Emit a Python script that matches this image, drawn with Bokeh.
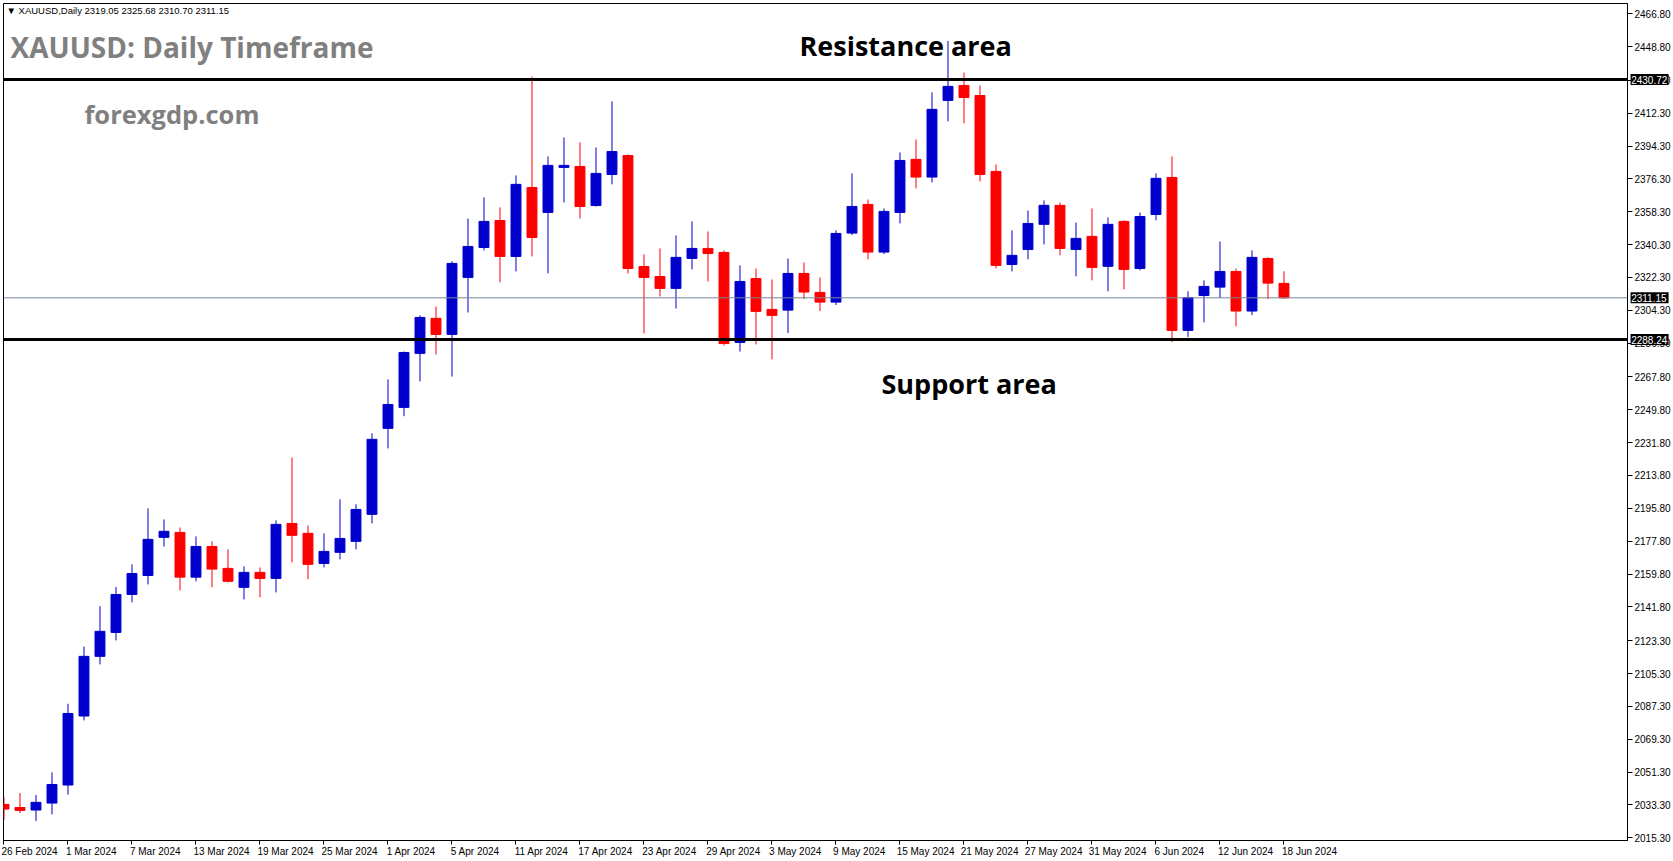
from bokeh.plotting import figure
from bokeh.models import ColumnDataSource, Range1d, LinearAxis, FixedTicker, Span, Label
from bokeh.embed import file_html
from bokeh.resources import INLINE
from bokeh.core.properties import value

# ---------------- data ----------------
date_labels = ["26 Feb 2024", "1 Mar 2024", "7 Mar 2024", "13 Mar 2024", "19 Mar 2024",
               "25 Mar 2024", "1 Apr 2024", "5 Apr 2024", "11 Apr 2024", "17 Apr 2024",
               "23 Apr 2024", "29 Apr 2024", "3 May 2024", "9 May 2024", "15 May 2024",
               "21 May 2024", "27 May 2024", "31 May 2024", "6 Jun 2024", "12 Jun 2024",
               "18 Jun 2024"]
bars_per_label = 4

opens = [2033.6, 2031.9, 2030.5, 2034.3, 2044.2, 2082.0, 2114.7, 2127.8, 2148.6, 2159.0,
         2179.9, 2182.6, 2158.1, 2174.9, 2162.9, 2152.5, 2160.7, 2157.4, 2187.5, 2182.1,
         2165.6, 2171.7, 2177.7, 2192.5, 2239.6, 2251.1, 2280.7, 2299.9, 2291.1, 2322.3,
         2338.7, 2353.5, 2333.8, 2371.6, 2357.9, 2382.6, 2383.1, 2361.7, 2378.7, 2389.1,
         2328.3, 2322.8, 2316.3, 2332.7, 2338.2, 2336.0, 2286.7, 2321.7, 2304.8, 2304.4,
         2324.5, 2314.1, 2308.8, 2346.6, 2362.3, 2336.2, 2357.9, 2387.0, 2377.3, 2419.3,
         2427.5, 2422.0, 2380.4, 2329.4, 2337.6, 2351.4, 2361.8, 2337.6, 2344.8, 2328.4,
         2353.0, 2327.2, 2356.8, 2377.1, 2293.3, 2312.4, 2317.0, 2325.6, 2303.9, 2332.7,
         2319.05]
highs = [2037.6, 2039.8, 2038.7, 2051.1, 2088.7, 2120.1, 2142.2, 2152.7, 2165.1, 2195.8,
         2189.7, 2185.3, 2180.4, 2177.7, 2173.3, 2164.0, 2163.4, 2189.2, 2223.7, 2186.4,
         2182.1, 2200.7, 2198.0, 2236.9, 2266.4, 2281.7, 2301.5, 2306.4, 2331.1, 2354.6,
         2366.1, 2360.7, 2378.2, 2432.4, 2388.6, 2399.0, 2396.3, 2393.5, 2418.7, 2389.7,
         2334.9, 2338.2, 2345.3, 2353.0, 2347.5, 2337.1, 2328.9, 2327.2, 2321.2, 2332.7,
         2330.5, 2322.3, 2348.1, 2379.3, 2365.0, 2360.1, 2390.8, 2397.9, 2423.7, 2451.9,
         2434.6, 2427.5, 2384.2, 2348.1, 2359.0, 2364.5, 2363.4, 2352.4, 2360.1, 2355.2,
         2353.6, 2357.9, 2379.3, 2388.6, 2314.7, 2320.7, 2342.0, 2327.2, 2337.1, 2333.3,
         2325.68]
lows = [2025.2, 2028.8, 2024.4, 2028.1, 2039.0, 2079.6, 2110.3, 2123.4, 2144.3, 2154.1,
        2174.9, 2150.8, 2155.8, 2152.5, 2155.2, 2145.9, 2147.0, 2149.7, 2166.2, 2156.9,
        2163.4, 2167.8, 2173.3, 2187.5, 2228.6, 2246.3, 2265.3, 2280.1, 2268.0, 2303.1,
        2337.1, 2319.6, 2325.6, 2333.8, 2324.5, 2363.4, 2354.6, 2361.2, 2373.3, 2324.5,
        2291.6, 2311.9, 2305.3, 2326.7, 2320.1, 2285.0, 2281.7, 2285.6, 2277.4, 2291.8,
        2310.4, 2303.9, 2307.2, 2345.5, 2332.2, 2335.1, 2351.9, 2371.1, 2374.4, 2407.8,
        2406.7, 2374.9, 2327.2, 2325.6, 2332.2, 2340.4, 2334.4, 2322.9, 2320.7, 2314.7,
        2315.8, 2326.2, 2353.6, 2286.9, 2289.6, 2297.7, 2311.0, 2295.5, 2301.7, 2310.4,
        2310.70]
closes = [2031.0, 2030.3, 2034.7, 2044.5, 2083.4, 2114.7, 2128.4, 2148.6, 2160.1, 2178.8,
          2183.2, 2158.1, 2174.9, 2162.5, 2155.8, 2160.7, 2157.4, 2187.0, 2181.0, 2165.1,
          2172.2, 2179.3, 2195.2, 2233.6, 2252.7, 2281.2, 2300.4, 2291.1, 2330.0, 2339.3,
          2353.0, 2333.8, 2373.3, 2344.2, 2383.7, 2383.7, 2361.2, 2379.3, 2391.3, 2327.2,
          2322.3, 2316.3, 2333.3, 2338.2, 2335.4, 2286.1, 2320.1, 2303.7, 2301.5, 2324.5,
          2314.3, 2308.8, 2346.4, 2361.2, 2336.2, 2358.5, 2386.4, 2377.3, 2414.4, 2427.0,
          2420.9, 2378.7, 2328.9, 2334.4, 2351.9, 2361.8, 2338.2, 2343.7, 2327.8, 2351.4,
          2326.7, 2355.7, 2376.6, 2293.3, 2311.3, 2317.4, 2325.6, 2303.9, 2333.3, 2319.2,
          2311.15]

ytick_values = [2466.8, 2448.8, 2430.3, 2412.3, 2394.3, 2376.3, 2358.3, 2340.3, 2322.3,
                2304.3, 2286.3, 2267.8, 2249.8, 2231.8, 2213.8, 2195.8, 2177.8, 2159.8,
                2141.8, 2123.3, 2105.3, 2087.3, 2069.3, 2051.3, 2033.3, 2015.3]
ytick_labels = ["%.2f" % v for v in ytick_values]

resistance = 2430.72
support = 2288.24
last_price = 2311.15
tag_prices = [resistance, last_price, support]
header = "\u25BC XAUUSD,Daily  2319.05 2325.68 2310.70 2311.15"

# ---------------- figure ----------------
W, H = 1673, 861
p = figure(width=W, height=H, output_backend="svg", toolbar_location=None,
           x_range=Range1d(-0.03, 101.47), y_range=Range1d(2013.8, 2472.4),
           x_axis_location=None, y_axis_location=None,
           min_border_left=3, min_border_right=46, min_border_top=3, min_border_bottom=21)
p.grid.visible = False
p.outline_line_color = "black"
p.outline_line_width = 1
p.background_fill_color = "white"
p.border_fill_color = "white"

BLUE = "#0000CC"
RED = "#FF0000"
n = len(opens)
src = ColumnDataSource(dict(
    x=list(range(n)),
    h=highs, l=lows,
    top=[max(o, c) for o, c in zip(opens, closes)],
    bottom=[min(o, c) for o, c in zip(opens, closes)],
    color=[BLUE if c >= o else RED for o, c in zip(opens, closes)],
))
p.segment(x0="x", y0="h", x1="x", y1="l", line_color="color", line_width=1, source=src)
p.vbar(x="x", width=0.62, top="top", bottom="bottom", fill_color="color",
       line_color="color", line_width=1, source=src)

# horizontal levels
p.add_layout(Span(location=last_price, dimension="width", line_color="#778899", line_width=1))
p.add_layout(Span(location=resistance, dimension="width", line_color="black", line_width=3))
p.add_layout(Span(location=support, dimension="width", line_color="black", line_width=3))

# right price axis
yax = LinearAxis(ticker=FixedTicker(ticks=ytick_values),
                 major_label_overrides={v: s for v, s in zip(ytick_values, ytick_labels)},
                 major_tick_in=0, major_tick_out=5, minor_tick_line_color=None,
                 major_label_standoff=2, major_label_text_font_size="10px",
                 major_label_text_font="Liberation Sans", major_label_text_color="black",
                 axis_line_color="black", major_tick_line_color="black")
p.add_layout(yax, "right")

# bottom date axis: tick marks at the bars (minor ticks), labels left-aligned to them
xt = [bars_per_label * k for k in range(len(date_labels))]
char_px = 4.65
bar_px = 16.0
xl = [t + len(s) * char_px / 2 / bar_px for t, s in zip(xt, date_labels)]
xax = LinearAxis(ticker=FixedTicker(ticks=xl, minor_ticks=xt),
                 major_label_overrides={v: s for v, s in zip(xl, date_labels)},
                 major_tick_in=0, major_tick_out=4, major_tick_line_color=None,
                 minor_tick_in=0, minor_tick_out=4, minor_tick_line_color="black",
                 axis_line_color="black",
                 major_label_standoff=1, major_label_text_font_size="10px",
                 major_label_text_font="Liberation Sans", major_label_text_color="black")
p.add_layout(xax, "below")

# price tags over the axis (overlay-level glyphs are drawn outside the frame too)
tag_src = ColumnDataSource(dict(
    x=[101.7] * len(tag_prices),
    xc=[102.85] * len(tag_prices),
    y=tag_prices,
    t=["%.2f" % v for v in tag_prices],
))
p.rect(x="xc", y="y", width=38, height=11, width_units="screen", height_units="screen",
       fill_color="black", line_color=None, source=tag_src, level="overlay")
p.text(x="x", y="y", text="t", text_color="white", text_font=value("Liberation Sans"),
       text_font_size="10px", text_baseline="middle", text_align="left",
       source=tag_src, level="overlay")

# texts (screen units relative to the frame: x from left, y from bottom)
def txt(x, y, s, size, color, bold=True, font="Open Sans"):
    p.add_layout(Label(x=x, y=y, x_units="screen", y_units="screen", text=s,
                       text_font=font, text_font_size=size, text_color=color,
                       text_font_style="bold" if bold else "normal",
                       text_baseline="alphabetic", text_align="left"))

txt(3, 830, header, "9.5px", "black", bold=False, font="Liberation Sans")
txt(7, 794, "XAUUSD: Daily Timeframe", "28px", "#808080")
txt(81, 727, "forexgdp.com", "25.5px", "#808080")
txt(796, 795, "Resistance area", "27px", "black")
txt(878, 457, "Support area", "27px", "black")

open("out.html", "w").write(file_html(p, INLINE))
